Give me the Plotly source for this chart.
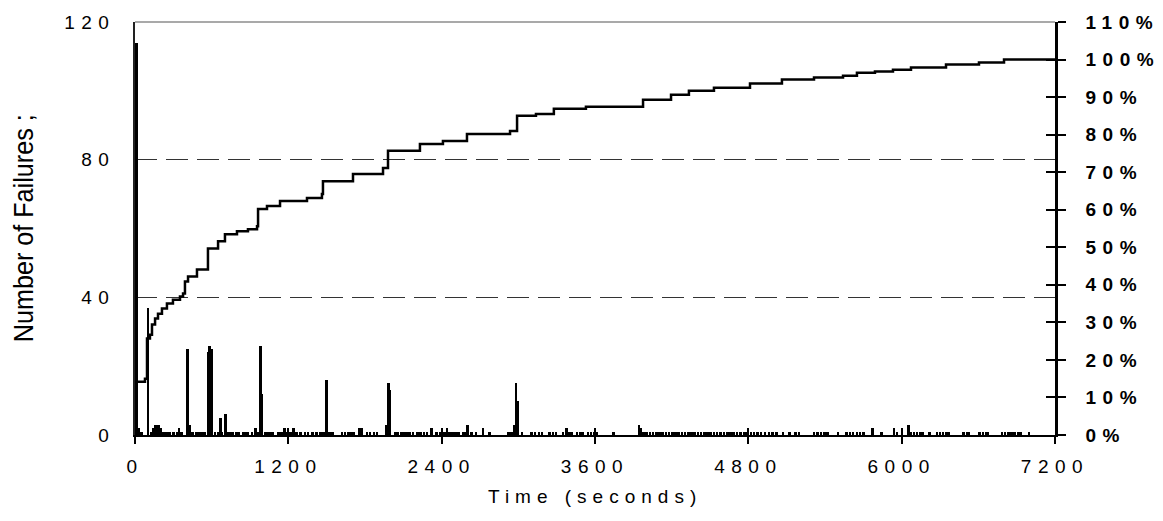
import plotly.graph_objects as go

# Cumulative share of failures (right axis), step curve knots: time (s) -> percent
curve_time = [0, 78, 94, 117, 133, 157, 180, 211, 250, 297, 352, 376, 391, 415, 485,
              571, 650, 704, 798, 884, 955, 963, 1033, 1135, 1346, 1463, 1471, 1706,
              1941, 1980, 2230, 2410, 2598, 2935, 2990, 3138, 3278, 3529, 3976, 4195,
              4335, 4531, 4813, 5063, 5314, 5541, 5650, 5791, 5932, 6073, 6347, 6605,
              6801, 7200]
curve_pct = [14.2, 15.0, 25.7, 26.7, 29.4, 31.0, 32.3, 33.7, 35.0, 36.0, 36.9, 37.7, 40.9,
             42.2, 44.1, 49.7, 51.6, 53.5, 54.3, 54.8, 55.6, 60.2, 61.0, 62.3, 63.1, 64.2,
             67.6, 69.5, 71.1, 75.7, 77.5, 78.3, 80.2, 81.0, 85.0, 85.5, 86.9, 87.4, 89.3,
             90.6, 91.7, 92.5, 93.6, 94.7, 95.2, 95.7, 96.5, 96.8, 97.3, 97.9, 98.7, 99.2,
             100.0, 100.0]

# Failure bursts
spike_time = [0, 92, 400, 560, 574, 588, 657, 697, 970, 984, 1490,
              1958, 1972, 1986, 2955, 2970, 2984, 3933, 3950]
spike_count = [114, 37, 25, 24, 26, 25, 5, 6, 26, 12, 16,
               3, 15, 13, 3, 15, 10, 3, 2]

# Background failures per time bin
base_time = [20, 40, 120, 135, 150, 164, 178, 192, 206, 222, 236,
             262, 290, 318, 336, 355, 420, 440, 470, 495, 515, 535,
             615, 640, 672, 715, 735, 755, 780, 800, 835, 855, 875, 905, 931, 950,
             1010, 1030, 1050, 1070, 1115, 1135, 1158, 1180, 1205, 1229,
             1255, 1285, 1320, 1345, 1380, 1410, 1440, 1465, 1510, 1535,
             1610, 1635, 1660, 1685, 1705, 1745, 1765, 1805, 1830, 1860, 1885,
             2025, 2045, 2070, 2090, 2115, 2140, 2165, 2200, 2225, 2250, 2275, 2310,
             2350, 2380, 2410, 2430, 2450, 2475, 2500, 2520, 2560, 2575, 2590,
             2625, 2660, 2715, 2765, 2915, 2935, 3020,
             3095, 3120, 3150, 3175, 3235, 3260, 3285, 3340, 3365, 3390, 3410,
             3450, 3475, 3495, 3535, 3560, 3585, 3605, 3733,
             3970, 3995, 4020, 4045, 4070, 4095, 4120, 4145, 4170, 4195, 4220, 4245,
             4270, 4295, 4320, 4345, 4370, 4395, 4420, 4445, 4470, 4495, 4520, 4545,
             4570, 4600, 4625, 4650, 4675, 4700, 4730, 4760, 4785, 4810, 4835, 4860,
             4890, 4920, 4950, 4980, 5010, 5060, 5110, 5160, 5185,
             5305, 5330, 5360, 5385, 5410, 5490, 5560, 5585, 5610, 5640, 5665, 5690,
             5760, 5830, 5930, 5955, 6045, 6062, 6085, 6110, 6135, 6155, 6206,
             6265, 6290, 6315, 6340, 6360, 6475, 6500, 6515, 6600, 6625, 6650, 6665,
             6775, 6800, 6825, 6850, 6875, 6900, 6920, 6985]
base_count = [2, 1, 1, 2, 3, 3, 3, 2, 1, 1, 1,
              1, 1, 1, 2, 1, 3, 1, 1, 1, 1, 1,
              1, 1, 1, 1, 1, 1, 1, 1, 1, 1, 1, 1, 2, 1,
              1, 1, 1, 1, 1, 1, 2, 1, 1, 2,
              1, 1, 1, 1, 1, 1, 1, 1, 1, 1,
              1, 1, 1, 1, 1, 2, 2, 1, 1, 1, 1,
              1, 1, 1, 1, 1, 1, 1, 1, 1, 1, 1, 2,
              1, 1, 1, 2, 1, 1, 1, 1, 1, 1, 3,
              1, 1, 2, 1, 1, 1, 1,
              1, 1, 1, 1, 1, 1, 1, 1, 2, 1, 1,
              1, 1, 1, 1, 1, 1, 1, 1,
              1, 1, 1, 1, 1, 1, 1, 1, 1, 1, 1, 1,
              1, 1, 1, 1, 1, 1, 1, 1, 1, 1, 1, 1,
              1, 1, 1, 1, 1, 1, 1, 1, 1, 1, 1, 1,
              1, 1, 1, 1, 1, 1, 1, 1, 1,
              1, 1, 1, 1, 1, 1, 1, 1, 1, 1, 1, 1,
              2, 1, 2, 1, 3, 1, 1, 1, 1, 1, 1,
              1, 1, 1, 1, 1, 1, 1, 1, 1, 1, 1, 1,
              1, 1, 1, 1, 1, 1, 1, 1]

x_ticks = [0, 1200, 2400, 3600, 4800, 6000, 7200]
left_ticks = [0, 40, 80, 120]
right_ticks = [0, 10, 20, 30, 40, 50, 60, 70, 80, 90, 100, 110]
right_labels = [f"{v}%" for v in right_ticks]

X_RANGE = [0, 7200]
LEFT_RANGE = [0, 120]
RIGHT_RANGE = [0, 110]

BIN_WIDTH = 20  # seconds per bar
FONT = "Liberation Sans, Arial, sans-serif"
TICK_SIZE = 19

fig = go.Figure()
fig.add_bar(
    x=spike_time + base_time,
    y=spike_count + base_count,
    width=BIN_WIDTH,
    offset=0,
    marker=dict(color="black", line=dict(width=0)),
    showlegend=False,
)
fig.add_scatter(
    x=curve_time,
    y=curve_pct,
    yaxis="y2",
    mode="lines",
    line=dict(color="black", width=2.5, shape="hv"),
    showlegend=False,
)
# empty trace that carries the inner half of the crossing tick marks
fig.add_scatter(x=[None], y=[None], xaxis="x2", yaxis="y3", mode="lines",
                showlegend=False, hoverinfo="skip")

fig.update_layout(
    width=1163,
    height=521,
    margin=dict(l=135, r=108, t=22, b=86),
    paper_bgcolor="white",
    plot_bgcolor="white",
    font=dict(family=FONT, size=TICK_SIZE, color="black"),
    bargap=0,
    xaxis=dict(
        range=X_RANGE,
        tickvals=x_ticks,
        ticktext=[str(v) for v in x_ticks],
        ticks="outside",
        ticklen=7,
        tickwidth=1.5,
        tickcolor="black",
        showline=True,
        linecolor="black",
        linewidth=2,
        showgrid=False,
        zeroline=False,
        ticklabelstandoff=6,
    ),
    xaxis2=dict(
        range=X_RANGE,
        overlaying="x",
        anchor="y",
        side="bottom",
        tickvals=x_ticks,
        ticks="inside",
        ticklen=7,
        tickwidth=1.5,
        tickcolor="black",
        showticklabels=False,
        showline=False,
        showgrid=False,
        zeroline=False,
    ),
    yaxis=dict(
        range=LEFT_RANGE,
        tickvals=left_ticks,
        ticktext=[str(v) for v in left_ticks],
        ticks="",
        showline=True,
        linecolor="#222",
        linewidth=1.5,
        showgrid=True,
        gridcolor="#333",
        gridwidth=1,
        griddash="22px,9px",
        zeroline=False,
        ticklabelstandoff=14,
    ),
    yaxis2=dict(
        range=RIGHT_RANGE,
        overlaying="y",
        side="right",
        anchor="x",
        tickvals=right_ticks,
        ticktext=right_labels,
        ticks="outside",
        ticklen=8,
        tickwidth=1.5,
        tickcolor="black",
        showline=True,
        linecolor="black",
        linewidth=2.5,
        showgrid=False,
        zeroline=False,
        tickfont=dict(family=FONT, size=TICK_SIZE, color="black", weight="bold"),
        ticklabelstandoff=16,
    ),
    yaxis3=dict(
        range=RIGHT_RANGE,
        overlaying="y",
        side="right",
        anchor="x",
        tickvals=right_ticks,
        ticks="inside",
        ticklen=9,
        tickwidth=1.5,
        tickcolor="black",
        showticklabels=False,
        showline=False,
        showgrid=False,
        zeroline=False,
    ),
    shapes=[
        dict(type="line", xref="paper", yref="paper", x0=0, x1=1, y0=1, y1=1,
             line=dict(color="#555", width=1.2)),
    ],
    annotations=[
        dict(text="Time (seconds)", xref="paper", yref="paper", x=0.5, y=-0.15,
             xanchor="center", yanchor="middle", showarrow=False,
             font=dict(family=FONT, size=TICK_SIZE, color="black")),
        dict(text="Number of Failures ;", xref="paper", yref="paper", x=-0.1217, y=0.5,
             xanchor="center", yanchor="middle", textangle=-90, showarrow=False,
             font=dict(family=FONT, size=27, color="black")),
    ],
)

spacing_js = """
var gd = document.getElementById('{plot_id}');
function spaceLabels() {
  gd.querySelectorAll('.xtick text, .ytick text, .y2tick text').forEach(function (t) {
    t.style.letterSpacing = '6.5px';
  });
  gd.querySelectorAll('.annotation-text').forEach(function (t) {
    var s = t.textContent;
    if (s.indexOf('Time') === 0) {
      t.style.letterSpacing = '6px';
    } else if (s.indexOf('Number') === 0) {
      // condensed lettering for the vertical axis title
      t.setAttribute('textLength', '228');
      t.setAttribute('lengthAdjust', 'spacingAndGlyphs');
    }
  });
}
spaceLabels();
gd.on('plotly_afterplot', spaceLabels);
"""

fig.write_html("out.html", post_script=spacing_js)
